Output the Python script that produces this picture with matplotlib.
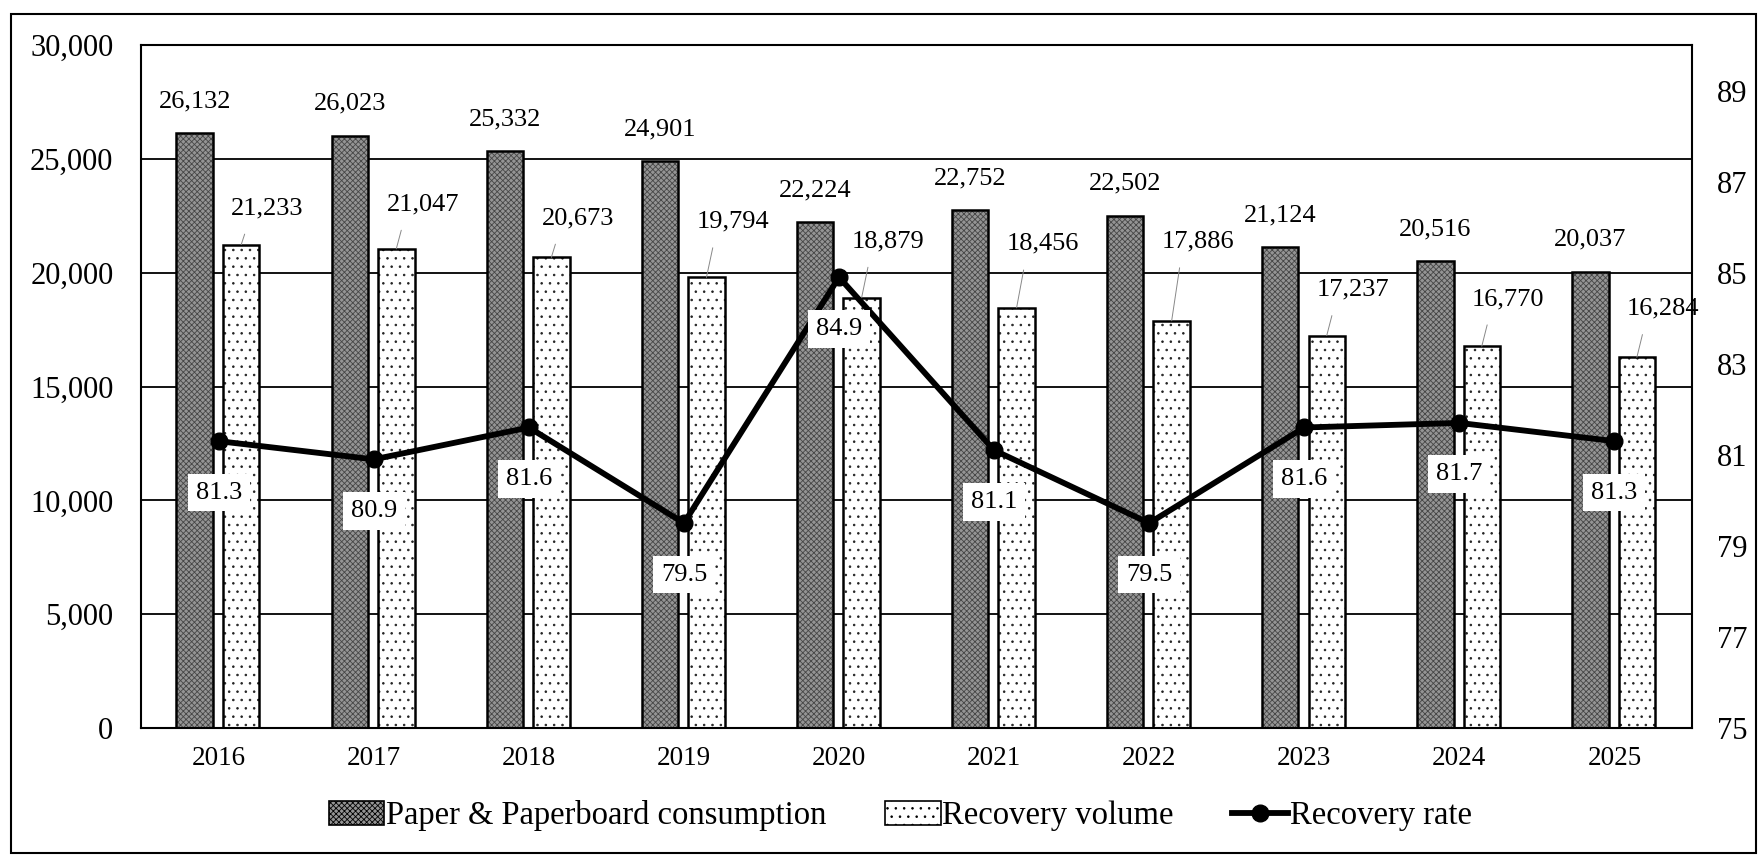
import matplotlib
matplotlib.use("Agg")
import matplotlib.pyplot as plt
import numpy as np
from matplotlib.patches import Rectangle
from matplotlib.lines import Line2D
from matplotlib.patches import Patch

years = ["2016", "2017", "2018", "2019", "2020", "2021", "2022", "2023", "2024", "2025"]
consumption = [26132, 26023, 25332, 24901, 22224, 22752, 22502, 21124, 20516, 20037]
recovery = [21233, 21047, 20673, 19794, 18879, 18456, 17886, 17237, 16770, 16284]
rate = [81.3, 80.9, 81.6, 79.5, 84.9, 81.1, 79.5, 81.6, 81.7, 81.3]

left_ticks = [0, 5000, 10000, 15000, 20000, 25000, 30000]
right_ticks = [75, 77, 79, 81, 83, 85, 87, 89]

# label placement offsets (points) for recovery-volume labels
rec_label_dy = [26, 32, 28, 40, 41, 46, 57, 33, 34, 35]

plt.rcParams['font.family'] = ['Liberation Serif', 'DejaVu Serif']
plt.rcParams['hatch.linewidth'] = 0.6

fig = plt.figure(figsize=(17.65, 8.57), dpi=100)
ax = fig.add_axes([0.080, 0.1505, 0.8786, 0.797])
ax2 = ax.twinx()

x = np.arange(len(years))
w = 0.235
xd = x - 0.155
xl = x + 0.145

# dark bars
ax.bar(xd, consumption, w, color='#949494', edgecolor='#464646', hatch='xxxxxx', linewidth=0, zorder=2)
ax.bar(xd, consumption, w, fill=False, edgecolor='black', linewidth=1.8, zorder=3)
# dotted bars
ax.bar(xl, recovery, w, color='white', edgecolor='#222222', hatch='..', linewidth=0, zorder=2)
ax.bar(xl, recovery, w, fill=False, edgecolor='black', linewidth=1.8, zorder=3)

ax.set_xlim(-0.5, len(years) - 0.5)
ax.set_ylim(0, 30000)
ax.set_yticks(left_ticks)
ax.set_yticklabels([f"{v:,}" for v in left_ticks], fontsize=22)
ax.set_xticks(x)
ax.set_xticklabels(years, fontsize=19.5)
ax.tick_params(axis='y', length=0, pad=20)
ax.tick_params(axis='x', length=0, pad=13)
ax.yaxis.grid(True, color='black', linewidth=1.3, zorder=1)
ax.set_axisbelow(True)
for s in ax.spines.values():
    s.set_linewidth(1.5)

# labels for bars
for xi, v in zip(xd, consumption):
    ax.annotate(f"{v:,}", (xi, v), xytext=(0, 23), textcoords='offset points',
                ha='center', va='center', fontsize=19, zorder=6)
for xi, v, dy in zip(xl, recovery, rec_label_dy):
    ax.annotate(f"{v:,}", (xi, v), xytext=(19, dy), textcoords='offset points',
                ha='center', va='center', fontsize=19, zorder=6,
                arrowprops=dict(arrowstyle='-', color='#888888', lw=0.7,
                                shrinkA=9, shrinkB=0, relpos=(0.3, 0.5)))

# rate line
ax2.set_ylim(75, 90)
ax2.set_yticks(right_ticks)
ax2.set_yticklabels([str(t) for t in right_ticks], fontsize=22)
ax2.tick_params(axis='y', length=0, pad=18)
for s in ax2.spines.values():
    s.set_visible(False)
ax2.plot(x, rate, color='black', linewidth=4.2, marker='o', markersize=12,
         markerfacecolor='black', zorder=5)
for xi, r in zip(x, rate):
    ax2.annotate(f"{r}", (xi, r), xytext=(0, -37), textcoords='offset points',
                 ha='center', va='center', fontsize=19, zorder=7,
                 bbox=dict(boxstyle='square,pad=0.3', facecolor='white', edgecolor='none'))

# legend
handles = [
    Patch(facecolor='#949494', edgecolor='black', hatch='xxxxxx', linewidth=1.2),
    Patch(facecolor='white', edgecolor='black', hatch='..', linewidth=1.2),
    Line2D([0], [0], color='black', linewidth=4.2, marker='o', markersize=12),
]
labels = ["Paper & Paperboard consumption", "Recovery volume", "Recovery rate"]
fig.legend(handles, labels, loc='center', bbox_to_anchor=(0.51, 0.048), ncol=3,
           frameon=False, fontsize=23.5, handlelength=1.7, handleheight=0.75,
           handletextpad=0.05, columnspacing=1.8)

# outer frame
fig.add_artist(Rectangle((0.006, 0.005), 0.989, 0.979, transform=fig.transFigure,
                         fill=False, edgecolor='black', linewidth=1.5))

fig.savefig("out.png", dpi=100)
